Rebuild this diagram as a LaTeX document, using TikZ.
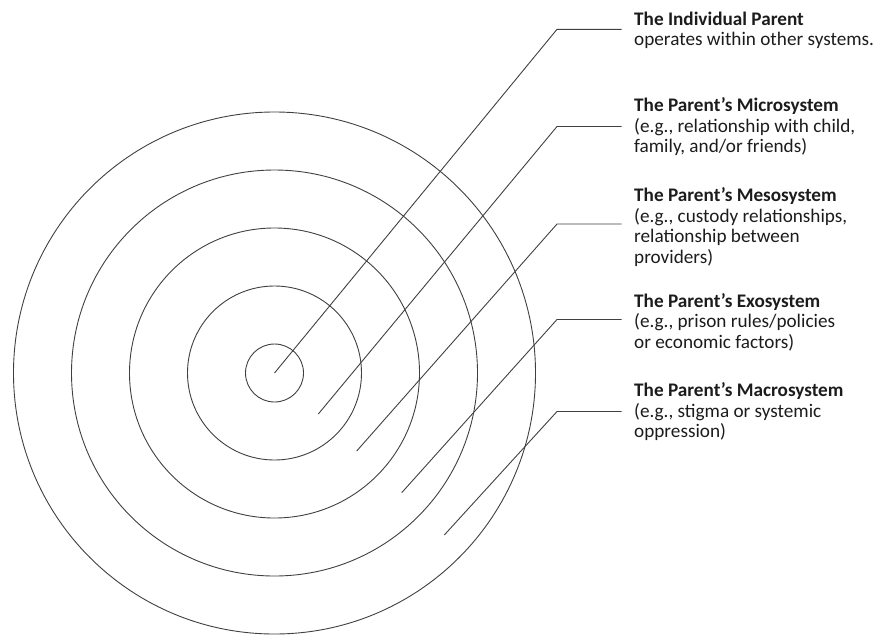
\documentclass[tikz,border=0pt]{standalone}
\usepackage{fontspec}
\setmainfont{Carlito}
\usetikzlibrary{positioning,calc}
\definecolor{ink}{HTML}{404040}
\definecolor{txt}{HTML}{1C1C1C}
\tikzset{
  ring/.style={draw=ink, circle, line width=0.9pt, inner sep=0pt, minimum size=#1},
  lead/.style={draw=ink, line width=0.9pt},
  lbl/.style={anchor=base west, align=left, text=txt, inner xsep=12.5pt, inner ysep=0pt,
    font=\fontsize{19.2}{20.5}\selectfont},
}

\begin{document}
\begin{tikzpicture}[x=1pt, y=-1pt]
  \useasboundingbox (0,0) rectangle (890,637);
  \coordinate (c) at (274.5,373);
  % rings, inner to outer
  \foreach \d [count=\i] in {58,174,290,406,522}
    \node[ring=\d pt] (ring\i) at (c) {};

  % labels on the right (placed at the baseline of their last line)
  \node[lbl] (indiv) at (621.5,45.5) {\textbf{The Individual Parent}\\operates within other systems.};
  \node[lbl] (micro) at (621.5,152.7) {\textbf{The Parent’s Microsystem}\\(e.g., relationship with child,\\family, and/or friends)};
  \node[lbl] (meso) at (621.5,263.2) {\textbf{The Parent’s Mesosystem}\\(e.g., custody relationships,\\relationship between\\providers)};
  \node[lbl] (exo) at (621.5,348.3) {\textbf{The Parent’s Exosystem}\\(e.g., prison rules/policies\\or economic factors)};
  \node[lbl] (macro) at (621.5,437.7) {\textbf{The Parent’s Macrosystem}\\(e.g., stigma or systemic\\oppression)};

  % leader lines
  \coordinate (s2) at (318.3,414);
  \coordinate (s3) at (356.7,451);
  \coordinate (s4) at (401.7,492.7);
  \coordinate (s5) at (444.3,535);
  \coordinate (k1) at (557,29.3);
  \coordinate (k2) at (557,126.5);
  \coordinate (k3) at (557,224);
  \coordinate (k4) at (557,319.5);
  \coordinate (k5) at (557,411.5);
  \draw[lead] (c) -- (k1) -- (k1 -| indiv.west);
  \draw[lead] (s2) -- (k2) -- (k2 -| micro.west);
  \draw[lead] (s3) -- (k3) -- (k3 -| meso.west);
  \draw[lead] (s4) -- (k4) -- (k4 -| exo.west);
  \draw[lead] (s5) -- (k5) -- (k5 -| macro.west);
\end{tikzpicture}
\end{document}
